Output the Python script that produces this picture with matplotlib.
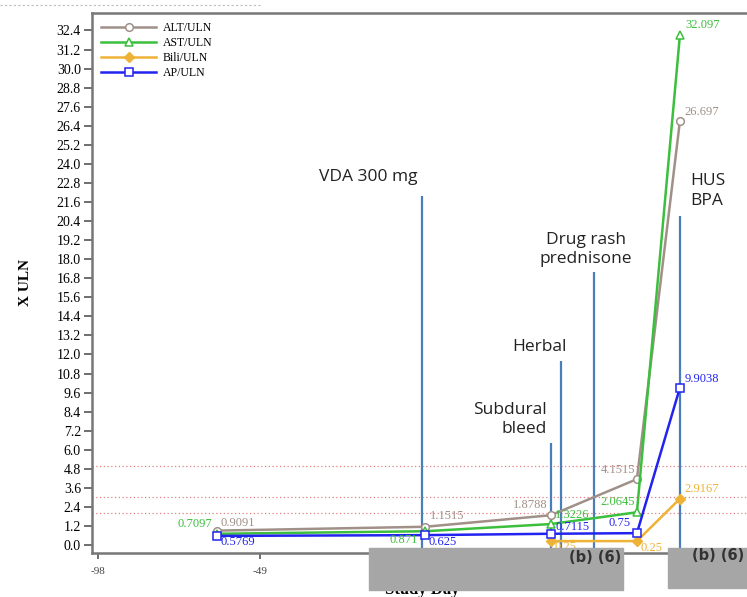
import matplotlib
matplotlib.use("Agg")
import matplotlib.pyplot as plt
from matplotlib.patches import Rectangle
import numpy as np

# ---- data ----
days = [-62, 1, 39, 65, 78]
alt = [0.9091, 1.1515, 1.8788, 4.1515, 26.697]
ast = [0.7097, 0.871, 1.3226, 2.0645, 32.097]
ap = [0.5769, 0.625, 0.7115, 0.75, 9.9038]
bili_days = [39, 65, 78]
bili = [0.25, 0.25, 2.9167]

uln_refs = [2, 3, 5]

events = ["VDA 300 mg", "Subdural\nbleed", "Herbal", "Drug rash\nprednisone", "HUS\nBPA"]
event_days = [0, 39, 42, 52, 78]
event_tops = [22.0, 6.4, 11.6, 17.2, 20.7]

# label offsets (px) per point: dx, dy, ha
alt_off = [(4, 8, 'left'), (5, 11, 'left'), (-3, 10, 'right'), (-2, 9, 'right'), (5, 9, 'left')]
ast_off = [(-5, 10, 'right'), (-7, -9, 'right'), (4, 9, 'left'), (-2, 10, 'right'), (5, 10, 'left')]
ap_off = [(4, -6, 'left'), (3, -7, 'left'), (5, 7, 'left'), (-6, 10, 'right'), (5, 9, 'left')]
bili_off = [(4, -6, 'left'), (4, -7, 'left'), (5, 10, 'left')]

c_alt = '#a09088'
c_ast = '#3cbf3c'
c_bili = '#eeb236'
c_ap = '#2323f0'
c_evt = '#4a7ebb'

serif = 'Liberation Serif'
sans = 'Open Sans'

fig = plt.figure(figsize=(7.47, 5.97), dpi=100)
ax = fig.add_axes([92/747, 1-553/597, (750-92)/747, (553-13)/597])

for y in uln_refs:
    ax.axhline(y, color='#e08080', lw=0.9, ls=(0, (1, 2)), zorder=1)

ax.plot(days, alt, color=c_alt, lw=1.8, marker='o', ms=5.5, mfc='white', mec=c_alt, mew=1.1, label='ALT/ULN', zorder=3)
ax.plot(days, ast, color=c_ast, lw=1.8, marker='^', ms=5.5, mfc='white', mec=c_ast, mew=1.1, label='AST/ULN', zorder=3)
ax.plot(bili_days, bili, color=c_bili, lw=1.8, marker='D', ms=5, mfc=c_bili, mec=c_bili, label='Bili/ULN', zorder=3)
ax.plot(days, ap, color=c_ap, lw=1.8, marker='s', ms=5.5, mfc='white', mec=c_ap, mew=1.1, label='AP/ULN', zorder=3)

def put_labels(xs, ys, offs, color):
    for x, y, (dx, dy, ha) in zip(xs, ys, offs):
        ax.annotate(f"{y:g}", (x, y), xytext=(dx*0.72, dy*0.72), textcoords='offset points',
                    ha=ha, va='center', color=color, fontsize=9, family=serif, zorder=4)

put_labels(days, alt, alt_off, c_alt)
put_labels(days, ast, ast_off, c_ast)
put_labels(days, ap, ap_off, c_ap)
put_labels(bili_days, bili, bili_off, c_bili)

# event markers
evt_font = dict(fontsize=12.5, family=sans, color='#222222', va='center', linespacing=1.3)
ax.vlines(event_days, -0.6, event_tops, color=c_evt, lw=1.6, zorder=2)
ax.text(-16.3, 23.2, events[0], ha='center', **evt_font)
ax.text(37.8, 7.9, events[1], ha='right', **evt_font)
ax.text(35.4, 12.5, events[2], ha='center', **evt_font)
ax.text(49.6, 18.6, events[3], ha='center', **evt_font)
ax.text(81.0, 22.3, events[4], ha='left', **evt_font)

ax.set_xlim(-99.8, 99.2)
ax.set_ylim(-0.5, 33.5)
ax.set_yticks(np.arange(0, 33, 1.2))
ax.set_yticklabels([f"{v:.1f}" for v in np.arange(0, 33, 1.2)], family=serif, fontsize=10)
ax.set_xticks([-98, -49, 0, 49])
ax.set_xticklabels(['-98', '-49', '0', '49'], family=serif, fontsize=8, color='#444444')
ax.tick_params(axis='y', length=6, width=1.2, color='#555555', pad=2)
ax.tick_params(axis='x', length=4, width=1.2, color='#555555', pad=6)
ax.set_ylabel('X ULN', family=serif, fontsize=11, fontweight='bold', labelpad=18)

ax.spines['right'].set_visible(False)
for s in ['left', 'bottom', 'top']:
    ax.spines[s].set_color('#777777')
    ax.spines[s].set_linewidth(1.8)

leg = ax.legend(loc='upper left', frameon=False, prop={'family': serif, 'size': 8.5},
                handlelength=4.6, labelspacing=0.25, borderaxespad=0.4, handletextpad=0.6)

fig.text(422/747, 1-590/597, 'Study Day', ha='center', va='center', family=serif,
         fontsize=12, fontweight='bold', zorder=1)

# redaction boxes over the axis area
for x0, x1, y0, y1 in [(369, 623, 548, 590), (668, 747, 548, 588)]:
    fig.patches.append(Rectangle((x0/747, 1-y1/597), (x1-x0)/747, (y1-y0)/597,
                                 transform=fig.transFigure, color='#a6a6a6', zorder=10))
fig.text(621/747, 1-557/597, '(b) (6)', ha='right', va='center', fontsize=10.5,
         family='DejaVu Sans', fontweight='bold', color='#333333', zorder=11)
fig.text(744/747, 1-555/597, '(b) (6)', ha='right', va='center', fontsize=10.5,
         family='DejaVu Sans', fontweight='bold', color='#333333', zorder=11)

fig.add_artist(plt.Line2D([0, 260/747], [1-5/597, 1-5/597], transform=fig.transFigure,
                          color='#bbbbbb', lw=0.8, ls=(0, (2, 2))))

fig.savefig('out.png', dpi=100)
